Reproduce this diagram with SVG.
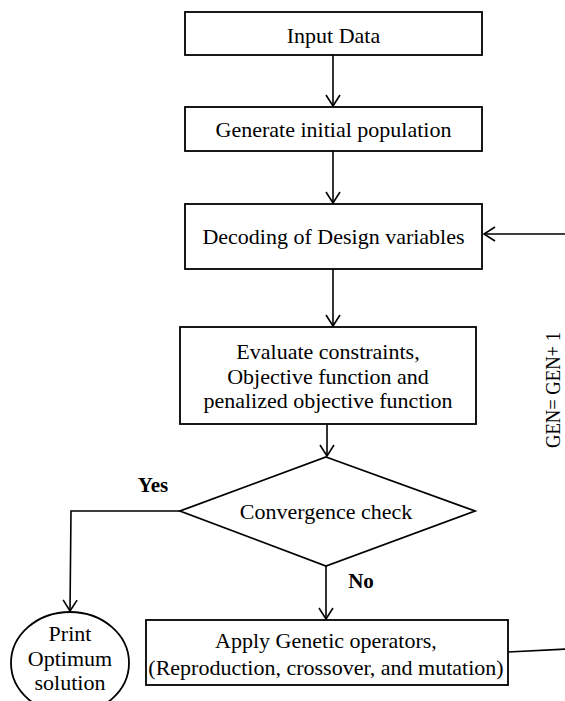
<svg xmlns="http://www.w3.org/2000/svg" width="565" height="701" viewBox="0 0 565 701">
<style>
.box{fill:#fff;stroke:#000;stroke-width:1.8}
.t{font-family:"Liberation Serif","Times New Roman",serif;font-size:22px;fill:#000;text-anchor:middle}
.b{font-weight:bold;font-size:21px}
.c{fill:none;stroke:#000;stroke-width:1.6}
</style>
<defs>
<marker id="ah" markerUnits="userSpaceOnUse" viewBox="-13 -9 15 18" refX="0" refY="0" markerWidth="15" markerHeight="18" orient="auto">
<path d="M-11,-7 L0,0 L-11,7" fill="none" stroke="#000" stroke-width="1.6"/>
</marker>
</defs>
<rect width="565" height="701" fill="#fff"/>
<g id="connectors">
<path class="c" d="M333,55 L333,106" marker-end="url(#ah)"/>
<path class="c" d="M333,151 L333,203" marker-end="url(#ah)"/>
<path class="c" d="M333,269 L333,326" marker-end="url(#ah)"/>
<path class="c" d="M327,424 L327,456" marker-end="url(#ah)"/>
<path class="c" d="M326,566 L326,619" marker-end="url(#ah)"/>
<path class="c" d="M180,511 L71,511 L70,611" marker-end="url(#ah)"/>
<path class="c" d="M508,652 L567,649 L567,234 L484,234" marker-end="url(#ah)"/>
</g>
<g id="input">
<rect class="box" x="185" y="12" width="297" height="43"/>
<text class="t" x="333.5" y="43">Input Data</text>
</g>
<g id="generate">
<rect class="box" x="185" y="107" width="297" height="44"/>
<text class="t" x="333.5" y="137">Generate initial population</text>
</g>
<g id="decoding">
<rect class="box" x="185" y="204" width="297" height="65"/>
<text class="t" x="333.5" y="244">Decoding of Design variables</text>
</g>
<g id="evaluate">
<rect class="box" x="180" y="327" width="296" height="97"/>
<text class="t" x="328" y="359">Evaluate constraints,</text>
<text class="t" x="328" y="384">Objective function and</text>
<text class="t" x="328" y="408">penalized objective function</text>
</g>
<g id="convergence">
<polygon class="box" points="326,457 475,511 326,566 180,511"/>
<text class="t" x="326" y="519">Convergence check</text>
</g>
<g id="apply">
<rect class="box" x="146" y="620" width="362" height="65"/>
<text class="t" x="326" y="648">Apply Genetic operators,</text>
<text class="t" x="326" y="675">(Reproduction, crossover, and mutation)</text>
</g>
<g id="print">
<ellipse class="box" cx="70" cy="663" rx="59" ry="51"/>
<text class="t" x="70" y="641">Print</text>
<text class="t" x="70" y="666">Optimum</text>
<text class="t" x="70" y="690">solution</text>
</g>
<g id="labels">
<text class="t b" x="153" y="492">Yes</text>
<text class="t b" x="361" y="588">No</text>
<text class="t" transform="translate(560,390) rotate(-90)" textLength="116" lengthAdjust="spacingAndGlyphs">GEN= GEN+ 1</text>
</g>
</svg>
